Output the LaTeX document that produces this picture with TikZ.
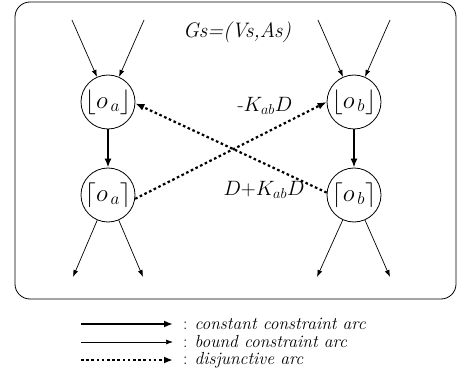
\documentclass[tikz,border=0pt]{standalone}
\usepackage{amsmath}
\usetikzlibrary{arrows.meta}
\DeclareMathSizes{20}{20}{15}{11}
\DeclareMathSizes{24}{24}{18}{13}
\tikzset{
  event node/.style={
    circle,
    draw=black,
    line width=0.8pt,
    minimum size=54pt,
    inner sep=0pt,
    font=\fontsize{24}{24}\selectfont
  },
  bound arc/.style={
    -{Latex[length=7pt, width=5pt]},
    line width=0.7pt
  },
  const arc/.style={
    -{Latex[length=9pt, width=7pt]},
    line width=2.2pt
  },
  disj arc/.style={
    -{Latex[length=9pt, width=7pt]},
    line width=2.2pt,
    dash pattern=on 2.6pt off 2.6pt
  },
  arc label/.style={
    font=\fontsize{20}{20}\selectfont
  },
  legend text/.style={
    anchor=west,
    inner sep=0pt,
    font=\fontsize{17.5}{17.5}\selectfont
  }
}

\begin{document}
\begin{tikzpicture}[x=1pt, y=-1pt]

  \useasboundingbox (0,0) rectangle (458,377);

  %% ---- 外框 ----
  \draw[line width=0.8pt, rounded corners=15pt] (15,2) rectangle (456,299);

  \node[font=\fontsize{21}{21}\selectfont\itshape] (title) at (237,32) {Gs=(Vs,As)};

  %% ---- 两个作业的节点 ----
  \node[event node] (oaU) at (108,102) {$\lfloor o_{\,a}\rfloor$};
  \node[event node] (oaL) at (108,195) {$\lceil o_{\,a}\rceil$};
  \node[event node] (obU) at (354,102) {$\lfloor o_{\,b}\rfloor$};
  \node[event node] (obL) at (354,195) {$\lceil o_{\,b}\rceil$};

  % 进入 / 离开的弧端点
  \coordinate (inA1)  at (72,20);
  \coordinate (inA2)  at (144,20);
  \coordinate (inB1)  at (318,20);
  \coordinate (inB2)  at (390,20);
  \coordinate (outA1) at (73,277);
  \coordinate (outA2) at (143,277);
  \coordinate (outB1) at (317,277);
  \coordinate (outB2) at (390,277);

  \draw[bound arc] (inA1) -- (oaU);
  \draw[bound arc] (inA2) -- (oaU);
  \draw[bound arc] (inB1) -- (obU);
  \draw[bound arc] (inB2) -- (obU);
  \draw[bound arc] (oaL) -- (outA1);
  \draw[bound arc] (oaL) -- (outA2);
  \draw[bound arc] (obL) -- (outB1);
  \draw[bound arc] (obL) -- (outB2);

  %% ---- 常数约束弧 ----
  \draw[const arc] (oaU) -- (oaL);
  \draw[const arc] (obU) -- (obL);

  %% ---- 析取弧 ----
  \draw[disj arc] (oaL.-8) -- (obU.180);
  \draw[disj arc] (obL.175) -- (oaU.-3);

  \node[arc label] (lblK) at (265,106) {-$K_{ab}D$};
  \node[arc label] (lblD) at (264,190) {$D{+}K_{ab}D$};

  %% ---- 图例 ----
  \coordinate (l1s) at (81,324);  \coordinate (l1e) at (173,324);
  \coordinate (l2s) at (81,342);  \coordinate (l2e) at (173,342);
  \coordinate (l3s) at (81,360);  \coordinate (l3e) at (173,360);

  \draw[const arc] (l1s) -- (l1e);
  \draw[bound arc] (l2s) -- (l2e);
  \draw[disj arc]  (l3s) -- (l3e);

  \node[legend text] (t1) at (183,324) {: \textit{constant constraint arc}};
  \node[legend text] (t2) at (183,342) {: \textit{bound constraint arc}};
  \node[legend text] (t3) at (183,360) {: \textit{disjunctive arc}};

\end{tikzpicture}
\end{document}
